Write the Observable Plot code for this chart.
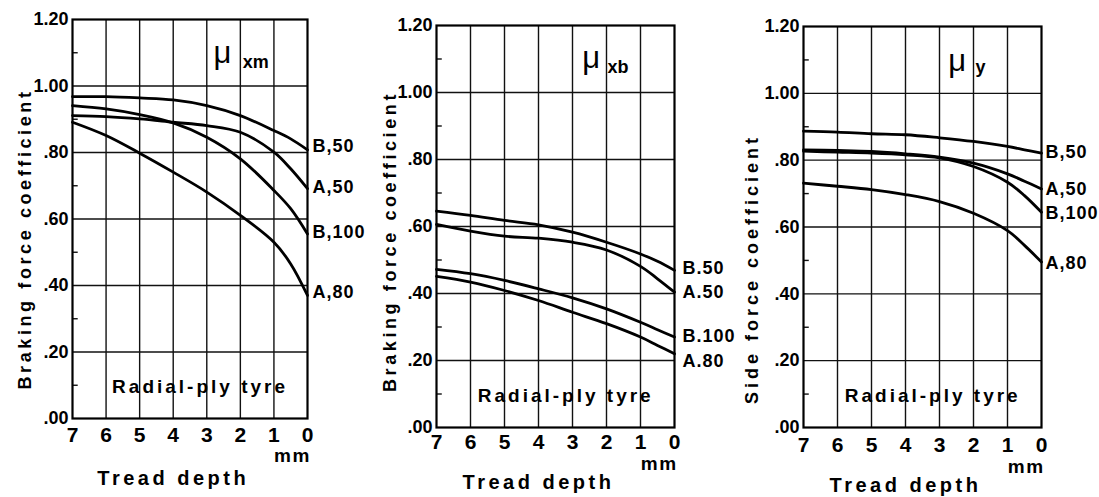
<!DOCTYPE html>
<html><head><meta charset="utf-8">
<script src="https://cdn.jsdelivr.net/npm/d3@7"></script>
<script src="https://cdn.jsdelivr.net/npm/@observablehq/plot@0.6"></script>
<style>
html,body{margin:0;padding:0;background:#fff;}
#wrap{position:relative;width:1099px;height:497px;overflow:hidden;background:#fff;}
#wrap svg{position:absolute;top:0;}
</style></head><body><div id="wrap"></div>
<script>
// Tread depth (mm) at which values were read
const depth = [7, 6, 5, 4, 3, 2, 1, 0.5, 0];
const xTicks = [7, 6, 5, 4, 3, 2, 1, 0];
const yMajor = [0, 0.2, 0.4, 0.6, 0.8, 1.0, 1.2];
const yMinor = [0.1, 0.3, 0.5, 0.7, 0.9, 1.1];

// Panel 1: mu_xm (peak braking force coefficient)
const xmNames = ["B,50", "A,50", "B,100", "A,80"];
const xm_B50  = [0.968, 0.968, 0.964, 0.958, 0.941, 0.911, 0.866, 0.841, 0.808];
const xm_A50  = [0.911, 0.908, 0.901, 0.891, 0.881, 0.861, 0.801, 0.751, 0.691];
const xm_B100 = [0.941, 0.931, 0.914, 0.889, 0.846, 0.781, 0.686, 0.631, 0.555];
const xm_A80  = [0.891, 0.851, 0.798, 0.741, 0.681, 0.611, 0.530, 0.465, 0.370];

// Panel 2: mu_xb (locked-wheel braking force coefficient)
const xbNames = ["B.50", "A.50", "B.100", "A.80"];
const xb_B50  = [0.646, 0.633, 0.618, 0.605, 0.583, 0.553, 0.518, 0.496, 0.469];
const xb_A50  = [0.606, 0.586, 0.571, 0.565, 0.553, 0.530, 0.481, 0.444, 0.404];
const xb_B100 = [0.472, 0.459, 0.439, 0.414, 0.387, 0.354, 0.314, 0.292, 0.270];
const xb_A80  = [0.451, 0.434, 0.409, 0.379, 0.344, 0.310, 0.270, 0.245, 0.220];

// Panel 3: mu_y (side force coefficient)
const yNames = ["B,50", "A,50", "B,100", "A,80"];
const y_B50  = [0.887, 0.884, 0.879, 0.876, 0.867, 0.856, 0.841, 0.831, 0.821];
const y_A50  = [0.831, 0.829, 0.826, 0.819, 0.809, 0.791, 0.759, 0.737, 0.714];
const y_B100 = [0.827, 0.824, 0.821, 0.816, 0.807, 0.781, 0.734, 0.694, 0.644];
const y_A80  = [0.731, 0.722, 0.712, 0.697, 0.676, 0.641, 0.589, 0.545, 0.495];

const yLabels = ["Braking force coefficient", "Braking force coefficient", "Side force coefficient"];
const xLabel = "Tread depth";
const unitLabel = "mm";
const note = "Radial-ply tyre";
const muSymbol = "\u03BC";
const muSubs = ["xm", "xb", "y"];

const FONT = "Liberation Sans, Arial, sans-serif";
const fmt = d => d >= 1 ? d.toFixed(2) : d.toFixed(2).slice(1);

const panels = [
  {left: 0, width: 370, mt: 19, mb: 79, ml: 72, mr: 63, names: xmNames, vals: [xm_B50, xm_A50, xm_B100, xm_A80],
   ylab: yLabels[0], ylDx: -47, ylDy: 20, sub: muSubs[0], muX: 2.80, muY: 1.098, subX: 1.93, subY: 1.071,
   nudge: [-4, -2, -2, -3], tickDy: 17, mmDy: 37, xlDy: 60, lblDx: 5},
  {left: 370, width: 360, mt: 25, mb: 70, ml: 66, mr: 56, names: xbNames, vals: [xb_B50, xb_A50, xb_B100, xb_A80],
   ylab: yLabels[1], ylDx: -46, ylDy: 15, sub: muSubs[1], muX: 2.71, muY: 1.104, subX: 1.97, subY: 1.075,
   nudge: [-2, 0, -1, 7], tickDy: 15, mmDy: 36, xlDy: 55, lblDx: 8},
  {left: 730, width: 369, mt: 26, mb: 70, ml: 73, mr: 58, names: yNames, vals: [y_B50, y_A50, y_B100, y_A80],
   ylab: yLabels[2], ylDx: -51, ylDy: 42, sub: muSubs[2], muX: 2.74, muY: 1.098, subX: 1.94, subY: 1.077,
   nudge: [-1, 0, 1, 1], tickDy: 18, mmDy: 39, xlDy: 58, lblDx: 4}
];

const spacing = new Map([
  [xLabel, "3.5px"], [note, "3px"], [unitLabel, "1.5px"],
  [yLabels[0], "3.6px"], [yLabels[2], "4px"]
]);

const wrap = document.getElementById("wrap");
for (const p of panels) {
  const rows = [];
  p.names.forEach((name, k) => depth.forEach((d, i) => rows.push({depth: d, value: p.vals[k][i], series: name})));
  const ends = p.names.map((name, k) => ({series: name, value: p.vals[k][p.vals[k].length - 1], k}));
  const svg = Plot.plot({
    width: p.width, height: 497,
    marginLeft: p.ml, marginRight: p.mr, marginTop: p.mt, marginBottom: p.mb,
    x: {domain: [7, 0], axis: null},
    y: {domain: [0, 1.2], axis: null},
    style: {fontFamily: FONT, background: "transparent", color: "#000", overflow: "visible"},
    marks: [
      Plot.ruleY(yMajor.slice(1, -1), {stroke: "#111", strokeWidth: 1.4}),
      Plot.ruleX(xTicks.slice(1, -1), {stroke: "#111", strokeWidth: 1.4}),
      Plot.ruleY(yMinor, {x1: 7, x2: 6.83, stroke: "#111", strokeWidth: 1.4}),
      Plot.frame({stroke: "#000", strokeWidth: 2.2}),
      Plot.line(rows, {x: "depth", y: "value", z: "series", curve: "catmull-rom", stroke: "#000", strokeWidth: 2.8, strokeLinejoin: "round"}),
      Plot.text(yMajor, {x: 7, y: d => d, text: fmt, textAnchor: "end", dx: -4, fontSize: 18, fontWeight: "bold", fontFamily: FONT}),
      Plot.text(xTicks, {x: d => d, y: 0, dy: p.tickDy, text: d => String(d), fontSize: 21, fontWeight: "bold", fontFamily: FONT}),
      Plot.text(ends, {x: 0, y: "value", text: "series", textAnchor: "start", dx: p.lblDx, fontSize: 18, fontWeight: "bold", fontFamily: FONT}),
      Plot.text([unitLabel], {x: 0.45, y: 0, dy: p.mmDy, text: d => d, fontSize: 19, fontWeight: "bold", fontFamily: FONT}),
      Plot.text([xLabel], {x: 4, y: 0, dy: p.xlDy, text: d => d, fontSize: 20, fontWeight: "bold", fontFamily: FONT}),
      Plot.text([p.ylab], {frameAnchor: "left", textAnchor: "middle", rotate: -90, dx: p.ylDx, dy: p.ylDy, text: d => d, fontSize: 18, fontWeight: "bold", fontFamily: FONT}),
      Plot.text([note], {x: 3.2, y: 0.095, text: d => d, fontSize: 19, fontWeight: "bold", fontFamily: FONT}),
      Plot.text([muSymbol], {x: p.muX, y: p.muY, text: d => d, textAnchor: "start", fontSize: 31, fontFamily: FONT}),
      Plot.text([p.sub], {x: p.subX, y: p.subY, text: d => d, textAnchor: "start", fontSize: 18, fontWeight: "bold", fontFamily: FONT})
    ]
  });
  d3.select(svg).selectAll("text").each(function() {
    const s = this.textContent;
    if (spacing.has(s)) this.style.letterSpacing = spacing.get(s);
    if (p.names.includes(s)) {
      const i = p.names.indexOf(s);
      this.style.letterSpacing = "1px";
      const t = this.getAttribute("transform") || "";
      this.setAttribute("transform", t + ` translate(0,${p.nudge[i]})`);
    }
  });
  svg.style.left = p.left + "px";
  wrap.appendChild(svg);
}
</script></body></html>
